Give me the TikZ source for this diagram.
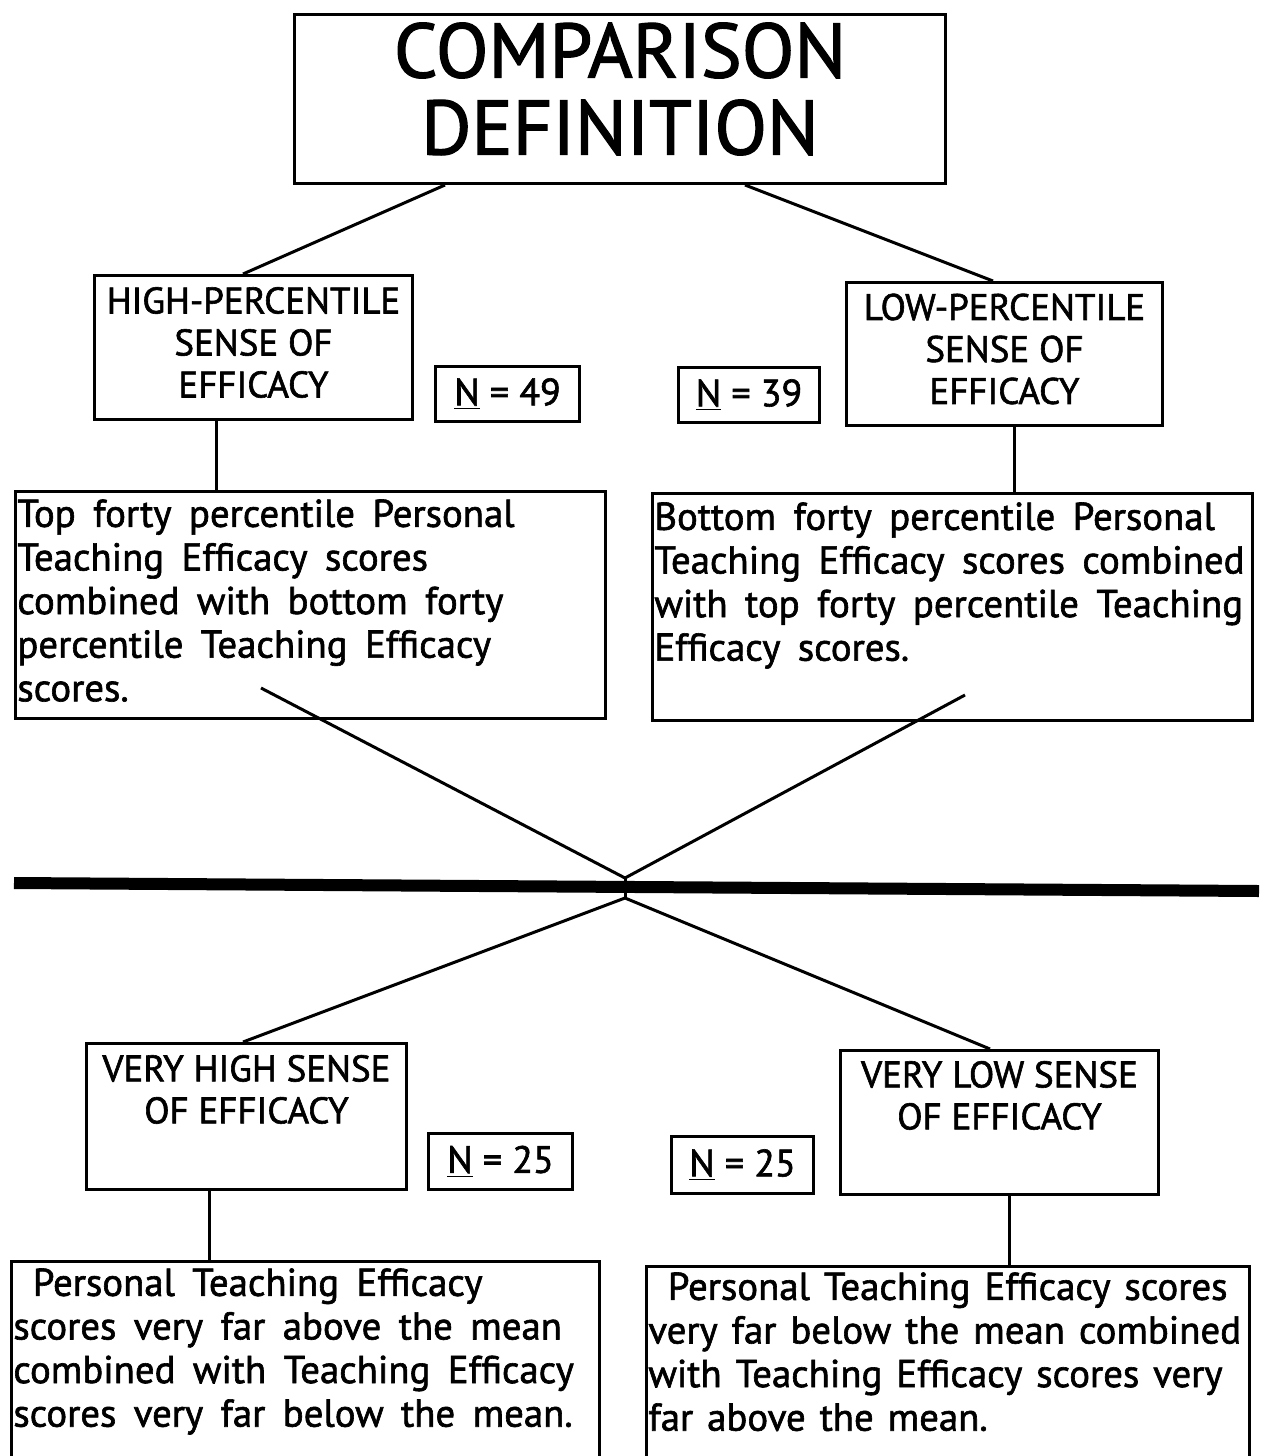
\documentclass[tikz,border=0pt]{standalone}
\usepackage{fontspec}
\setmainfont{PT Sans}[FakeBold=1.6]
\newcommand\mydescfont{\fontsize{19.4}{21.8}\selectfont\spaceskip=0.45em plus 0.1em\relax}
\newcommand\mytightfont{\fontsize{19.4}{21.8}\selectfont\spaceskip=0.36em plus 0.1em\relax}
\begin{document}
\begin{tikzpicture}[x=0.5pt,y=-0.5pt,
  box/.style={draw, line width=1.5pt, inner sep=0pt, anchor=north west},
  headtxt/.style={inner sep=0pt, align=center, font=\fontsize{18.5}{21}\selectfont},
  nbox/.style={box, font=\fontsize{19}{20}\selectfont},
  desc/.style={inner sep=0pt, anchor=north west, align=left, font=\mydescfont},
  conn/.style={line width=1.5pt}]
\useasboundingbox (0,0) rectangle (1266,1456);

% title
\node[box, minimum width=325.5pt, minimum height=84.5pt] (ttl) at (293,13) {};
\node[inner sep=0pt, align=center, font=\fontsize{38.5}{38.5}\selectfont, yshift=5pt] (ttlt) at (ttl.center) {COMPARISON\\DEFINITION};

% upper level
\node[box, minimum width=159pt, minimum height=72pt] (hp) at (93,274) {};
\node[headtxt, yshift=2.5pt] (hpt) at (hp.center) {HIGH-PERCENTILE\\SENSE OF\\EFFICACY};
\node[box, minimum width=158pt, minimum height=71.5pt] (lp) at (845,281) {};
\node[headtxt, yshift=2.5pt] (lpt) at (lp.center) {LOW-PERCENTILE\\SENSE OF\\EFFICACY};
\node[nbox, minimum width=72pt, minimum height=27.5pt] (n49) at (434,365) {\underline{N} = 49};
\node[nbox, minimum width=70.5pt, minimum height=27.5pt] (n39) at (677,366) {\underline{N} = 39};

\node[box, minimum width=295pt, minimum height=113.5pt] (dl) at (14,490) {};
\node[desc] (dlt) at (17,499) {Top forty percentile Personal\\Teaching Efficacy scores\\combined with bottom forty\\percentile Teaching Efficacy\\scores.};
\node[box, minimum width=300pt, minimum height=113.5pt] (dr) at (651,492) {};
\node[desc] (drt) at (654,502) {Bottom forty percentile Personal\\Teaching Efficacy scores combined\\with top forty percentile Teaching\\Efficacy scores.};

\draw[conn] (ttl.south -| 445,0) -- (hp.north -| 243,0);
\draw[conn] (ttl.south -| 745,0) -- (lp.north -| 993,0);
\draw[conn] (hp.south -| 216,0) -- (dl.north -| 216,0);
\draw[conn] (lp.south -| 1014,0) -- (dr.north -| 1014,0);

% cross and divider
\coordinate (xa) at (261,688);
\coordinate (xb) at (965,695);
\coordinate (ct) at (625,878);
\coordinate (cb) at (625,898);
\draw[conn] (xa) -- (ct) -- (xb);
\draw[conn] (ct) -- (cb);
\coordinate (hl) at (14,883);
\coordinate (hr) at (1259,891);
\draw[line width=6pt] (hl) -- (hr);

% lower level
\node[box, minimum width=160pt, minimum height=73pt] (vh) at (85,1042) {};
\node[headtxt] (vht) at (vh.center) {VERY HIGH SENSE\\OF EFFICACY\\ \strut};
\node[box, minimum width=159pt, minimum height=72pt] (vl) at (839,1049) {};
\node[headtxt] (vlt) at (vl.center) {VERY LOW SENSE\\OF EFFICACY\\ \strut};
\node[nbox, minimum width=72pt, minimum height=28pt] (n25a) at (427,1132) {\underline{N} = 25};
\node[nbox, minimum width=71pt, minimum height=28.5pt] (n25b) at (670,1135) {\underline{N} = 25};

\draw[conn] (cb) -- (vh.north -| 243,0);
\draw[conn] (cb) -- (vl.north -| 990,0);

\node[box, minimum width=294pt, minimum height=120pt] (bl) at (10,1260) {};
\node[desc] (blt) at (13,1268) {\hspace{0.5em}Personal Teaching Efficacy\\scores very far above the mean\\combined with Teaching Efficacy\\scores very far below the mean.};
\node[box, minimum width=301.5pt, minimum height=120pt] (br) at (645,1265) {};
\node[desc, font=\mytightfont] (brt) at (648,1272) {\hspace{0.5em}Personal Teaching Efficacy scores\\very far below the mean combined\\with Teaching Efficacy scores very\\far above the mean.};

\draw[conn] (vh.south -| 209,0) -- (bl.north -| 209,0);
\draw[conn] (vl.south -| 1009,0) -- (br.north -| 1009,0);
\end{tikzpicture}
\end{document}
